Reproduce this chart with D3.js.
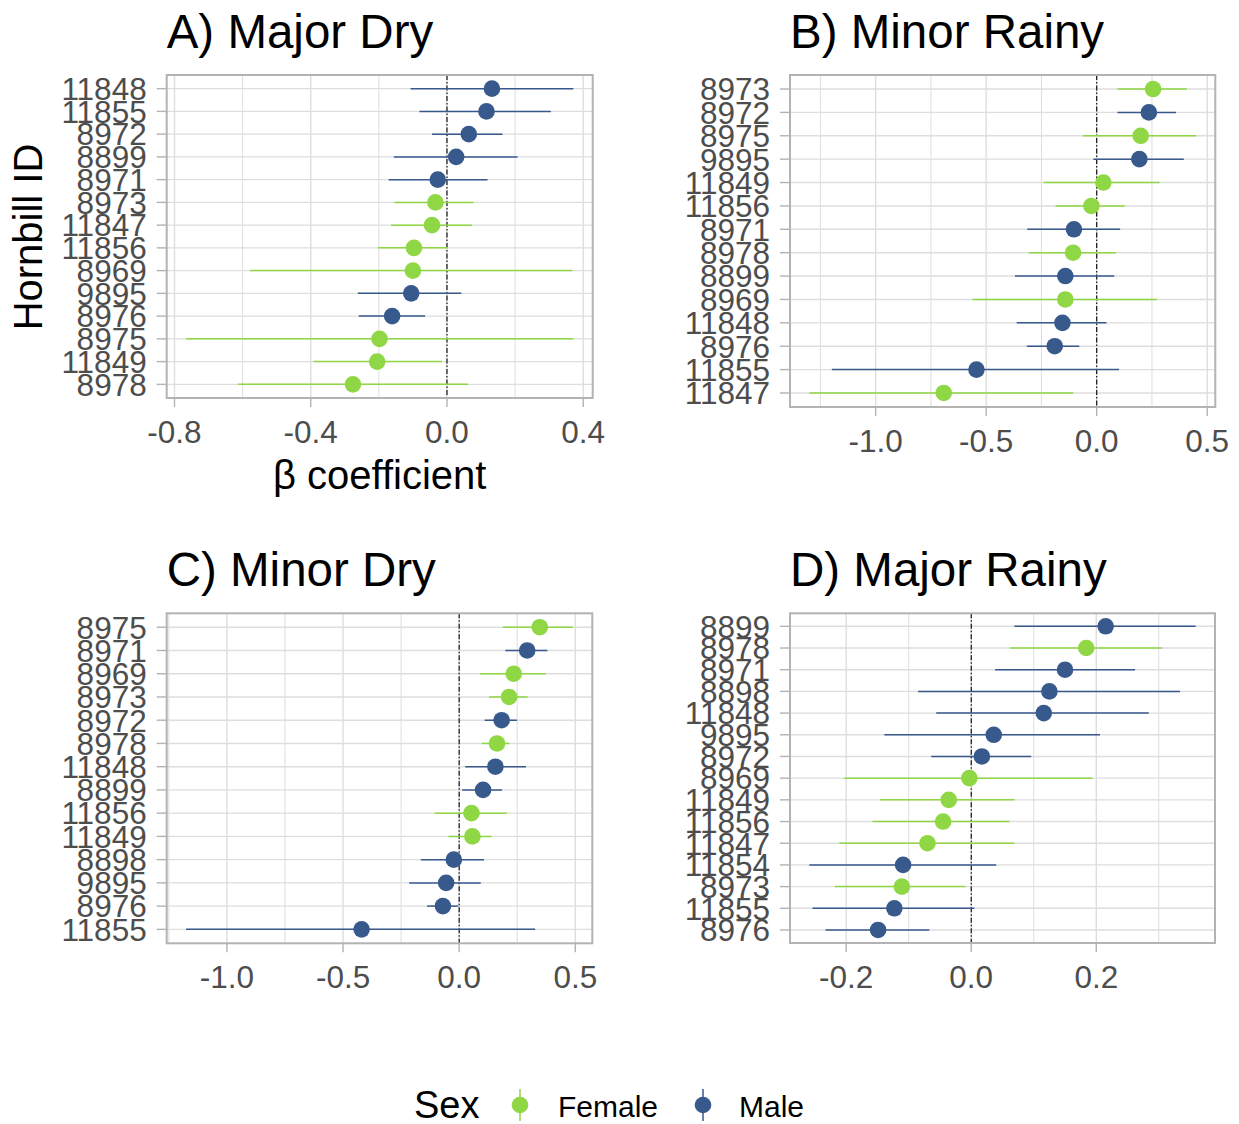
<!DOCTYPE html>
<html>
<head>
<meta charset="utf-8">
<script src="https://cdn.jsdelivr.net/npm/d3@7"></script>
<style>
  body { margin: 0; background: #fff; }
  text { font-family: "Liberation Sans", Arial, sans-serif; }
</style>
</head>
<body>
<svg id="chart" width="1239" height="1124"></svg>
<script>
// ---- Season-specific beta coefficients (estimate with lower/upper interval) per hornbill ----

// A) Major Dry
const majorDryIds  = ["11848","11855","8972","8899","8971","8973","11847","11856","8969","9895","8976","8975","11849","8978"];
const majorDrySex  = ["Male","Male","Male","Male","Male","Female","Female","Female","Female","Male","Male","Female","Female","Female"];
const majorDryEst  = [0.132, 0.116, 0.064, 0.027, -0.027, -0.034, -0.044, -0.097, -0.100, -0.105, -0.161, -0.198, -0.205, -0.276];
const majorDryLow  = [-0.107, -0.081, -0.044, -0.156, -0.171, -0.154, -0.164, -0.203, -0.578, -0.262, -0.259, -0.766, -0.392, -0.613];
const majorDryHigh = [0.371, 0.305, 0.163, 0.207, 0.119, 0.078, 0.074, 0.003, 0.368, 0.042, -0.064, 0.371, -0.015, 0.062];

// B) Minor Rainy
const minorRainyIds  = ["8973","8972","8975","9895","11849","11856","8971","8978","8899","8969","11848","8976","11855","11847"];
const minorRainySex  = ["Female","Male","Female","Male","Female","Female","Male","Female","Male","Female","Male","Male","Male","Female"];
const minorRainyEst  = [0.255, 0.236, 0.199, 0.193, 0.030, -0.024, -0.103, -0.107, -0.142, -0.142, -0.155, -0.190, -0.544, -0.692];
const minorRainyLow  = [0.094, 0.094, -0.062, -0.015, -0.240, -0.186, -0.314, -0.308, -0.370, -0.562, -0.362, -0.316, -1.198, -1.300];
const minorRainyHigh = [0.408, 0.359, 0.449, 0.394, 0.284, 0.127, 0.106, 0.086, 0.079, 0.272, 0.044, -0.079, 0.101, -0.106];

// C) Minor Dry
const minorDryIds  = ["8975","8971","8969","8973","8972","8978","11848","8899","11856","11849","8898","9895","8976","11855"];
const minorDrySex  = ["Female","Male","Female","Female","Male","Female","Male","Male","Female","Female","Male","Male","Male","Male"];
const minorDryEst  = [0.347, 0.293, 0.235, 0.215, 0.183, 0.163, 0.156, 0.103, 0.053, 0.057, -0.023, -0.056, -0.070, -0.420];
const minorDryLow  = [0.188, 0.199, 0.089, 0.129, 0.110, 0.097, 0.026, 0.013, -0.105, -0.046, -0.165, -0.215, -0.138, -1.176];
const minorDryHigh = [0.490, 0.380, 0.373, 0.295, 0.249, 0.216, 0.288, 0.185, 0.205, 0.139, 0.107, 0.093, -0.004, 0.327];

// D) Major Rainy
const majorRainyIds  = ["8899","8978","8971","8898","11848","9895","8972","8969","11849","11856","11847","11854","8973","11855","8976"];
const majorRainySex  = ["Male","Female","Male","Male","Male","Male","Male","Female","Female","Female","Female","Male","Female","Male","Male"];
const majorRainyEst  = [0.215, 0.184, 0.150, 0.125, 0.116, 0.036, 0.017, -0.003, -0.036, -0.045, -0.070, -0.109, -0.111, -0.123, -0.149];
const majorRainyLow  = [0.069, 0.062, 0.038, -0.085, -0.056, -0.139, -0.064, -0.203, -0.146, -0.158, -0.211, -0.259, -0.218, -0.254, -0.233];
const majorRainyHigh = [0.359, 0.305, 0.262, 0.334, 0.284, 0.206, 0.096, 0.194, 0.069, 0.061, 0.069, 0.040, -0.009, 0.005, -0.067];

// Axis breaks
const ticksMajorDry   = [-0.8, -0.4, 0.0, 0.4];
const ticksMinorRainy = [-1.0, -0.5, 0.0, 0.5];
const ticksMinorDry   = [-1.0, -0.5, 0.0, 0.5];
const ticksMajorRainy = [-0.2, 0.0, 0.2];

const sexLevels = ["Female", "Male"];
const sexColors = ["#8FD744", "#38598C"];

// ---- Layout ----
const panels = [
  { title: "A) Major Dry",   ids: majorDryIds,   sex: majorDrySex,   est: majorDryEst,   low: majorDryLow,   high: majorDryHigh,   ticks: ticksMajorDry,
    box: { x0: 166.7, x1: 592.7, y0: 75,    y1: 398 } },
  { title: "B) Minor Rainy", ids: minorRainyIds, sex: minorRainySex, est: minorRainyEst, low: minorRainyLow, high: minorRainyHigh, ticks: ticksMinorRainy,
    box: { x0: 790,   x1: 1215.3, y0: 75,   y1: 407 } },
  { title: "C) Minor Dry",   ids: minorDryIds,   sex: minorDrySex,   est: minorDryEst,   low: minorDryLow,   high: minorDryHigh,   ticks: ticksMinorDry,
    box: { x0: 166.7, x1: 592.3, y0: 613.3, y1: 943.3 } },
  { title: "D) Major Rainy", ids: majorRainyIds, sex: majorRainySex, est: majorRainyEst, low: majorRainyLow, high: majorRainyHigh, ticks: ticksMajorRainy,
    box: { x0: 790,   x1: 1215,   y0: 613.3, y1: 943 } }
];

const color = d3.scaleOrdinal().domain(sexLevels).range(sexColors);
const fmt = v => v.toFixed(1);
const svg = d3.select("#chart");
const gridColor = "#DEDEDE";
const borderColor = "#B3B3B3";
const textGrey = "#4D4D4D";
const tickFont = 31.5;

panels.forEach(p => {
  const b = p.box;
  const rows = p.ids.map((id, i) => ({ id, sex: p.sex[i], est: p.est[i], low: p.low[i], high: p.high[i] }));

  // continuous x with 5% expansion on each side
  const lo = d3.min(p.low), hi = d3.max(p.high), pad = (hi - lo) * 0.05;
  const x = d3.scaleLinear().domain([lo - pad, hi + pad]).range([b.x0, b.x1]);
  // discrete y: first id on top, 0.6 step padding at both ends
  const y = d3.scalePoint().domain(p.ids).range([b.y0, b.y1]).padding(0.6);

  const g = svg.append("g");

  // minor grid (midpoints between breaks, extended one step beyond)
  const step = p.ticks[1] - p.ticks[0];
  const minor = [];
  for (let k = -1; k < p.ticks.length; k++) {
    const m = p.ticks[0] + step * (k + 0.5);
    const [d0, d1] = x.domain();
    if (m > d0 && m < d1) minor.push(m);
  }
  g.selectAll(".minor").data(minor).join("line")
    .attr("x1", d => x(d)).attr("x2", d => x(d))
    .attr("y1", b.y0).attr("y2", b.y1)
    .attr("stroke", gridColor).attr("stroke-width", 1);

  // major grid
  g.selectAll(".majx").data(p.ticks).join("line")
    .attr("x1", d => x(d)).attr("x2", d => x(d))
    .attr("y1", b.y0).attr("y2", b.y1)
    .attr("stroke", gridColor).attr("stroke-width", 1.4);
  g.selectAll(".majy").data(p.ids).join("line")
    .attr("x1", b.x0).attr("x2", b.x1)
    .attr("y1", d => y(d)).attr("y2", d => y(d))
    .attr("stroke", gridColor).attr("stroke-width", 1.4);

  // zero reference line
  g.append("line")
    .attr("x1", x(0)).attr("x2", x(0))
    .attr("y1", b.y0).attr("y2", b.y1)
    .attr("stroke", "#000").attr("stroke-width", 1.1)
    .attr("stroke-dasharray", "5,2,1.5,2");

  // intervals
  g.selectAll(".ci").data(rows).join("line")
    .attr("x1", d => x(d.low)).attr("x2", d => x(d.high))
    .attr("y1", d => y(d.id)).attr("y2", d => y(d.id))
    .attr("stroke", d => color(d.sex)).attr("stroke-width", 1.5);

  // estimates
  g.selectAll(".pt").data(rows).join("circle")
    .attr("cx", d => x(d.est)).attr("cy", d => y(d.id)).attr("r", 8.3)
    .attr("fill", d => color(d.sex));

  // panel border
  g.append("rect")
    .attr("x", b.x0).attr("y", b.y0)
    .attr("width", b.x1 - b.x0).attr("height", b.y1 - b.y0)
    .attr("fill", "none").attr("stroke", borderColor).attr("stroke-width", 2);

  // y axis ticks and labels
  g.selectAll(".yt").data(p.ids).join("line")
    .attr("x1", b.x0 - 10).attr("x2", b.x0)
    .attr("y1", d => y(d)).attr("y2", d => y(d))
    .attr("stroke", borderColor).attr("stroke-width", 1.4);
  g.selectAll(".yl").data(p.ids).join("text")
    .attr("x", b.x0 - 20).attr("y", d => y(d)).attr("dy", "0.36em")
    .attr("text-anchor", "end").attr("font-size", tickFont).attr("fill", textGrey)
    .text(d => d);

  // x axis ticks and labels
  g.selectAll(".xt").data(p.ticks).join("line")
    .attr("x1", d => x(d)).attr("x2", d => x(d))
    .attr("y1", b.y1).attr("y2", b.y1 + 9)
    .attr("stroke", borderColor).attr("stroke-width", 1.4);
  g.selectAll(".xl").data(p.ticks).join("text")
    .attr("x", d => x(d)).attr("y", b.y1 + 45)
    .attr("text-anchor", "middle").attr("font-size", tickFont).attr("fill", textGrey)
    .text(d => fmt(d));

  // panel title
  g.append("text")
    .attr("x", b.x0).attr("y", b.y0 - 27)
    .attr("font-size", 47.5).attr("fill", "#000")
    .text(p.title);
});

// axis titles (shared with first panel)
svg.append("text")
  .attr("transform", "translate(42,237) rotate(-90)")
  .attr("text-anchor", "middle").attr("font-size", 40).attr("fill", "#000")
  .text("Hornbill ID");
svg.append("text")
  .attr("x", 379.7).attr("y", 489)
  .attr("text-anchor", "middle").attr("font-size", 40).attr("fill", "#000")
  .text("β coefficient");

// legend
const legend = svg.append("g");
legend.append("text").attr("x", 414).attr("y", 1118)
  .attr("font-size", 38).attr("fill", "#000").text("Sex");
const keyX = [520, 703];
const labX = [558, 739];
sexLevels.forEach((s, i) => {
  legend.append("line")
    .attr("x1", keyX[i]).attr("x2", keyX[i]).attr("y1", 1089).attr("y2", 1121)
    .attr("stroke", color(s)).attr("stroke-width", 1.5);
  legend.append("circle")
    .attr("cx", keyX[i]).attr("cy", 1105).attr("r", 8.3).attr("fill", color(s));
  legend.append("text").attr("x", labX[i]).attr("y", 1116.5)
    .attr("font-size", 30).attr("fill", "#000").text(s);
});
</script>
</body>
</html>
